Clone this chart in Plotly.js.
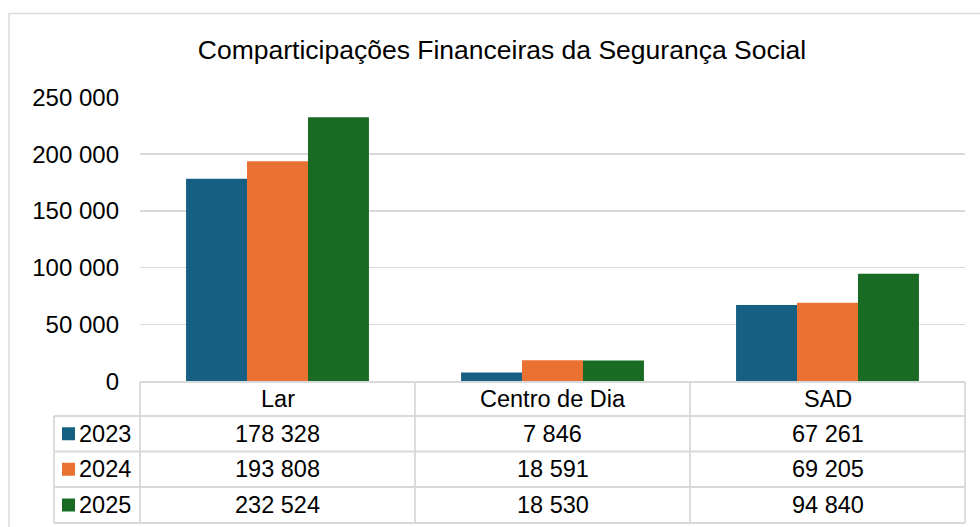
<!DOCTYPE html>
<html>
<head>
<meta charset="utf-8">
<script src="https://cdn.plot.ly/plotly-3.0.1.min.js"></script>
<style>html,body{margin:0;padding:0;background:#fff;}#chart{width:980px;height:527px;}</style>
</head>
<body>
<div id="chart"></div>
<script>
const categories = ['Lar', 'Centro de Dia', 'SAD'];
const years = ['2023', '2024', '2025'];
const values2023 = [178328, 7846, 67261];
const values2024 = [193808, 18591, 69205];
const values2025 = [232524, 18530, 94840];
const yTickValues = [0, 50000, 100000, 150000, 200000, 250000];
const yTickLabels = ['0', '50 000', '100 000', '150 000', '200 000', '250 000'];
const seriesColors = ['#156082', '#E97132', '#196B24'];
const seriesValues = [values2023, values2024, values2025];

const W = 980, H = 527;
const px = x => x / W;
const py = y => (H - y) / H;
const FONT = 'Liberation Sans, Arial, sans-serif';
const FS = 23.5;
const lineColor = '#D9D9D9';

function fmt(n) { return String(n).replace(/\B(?=(\d{3})+(?!\d))/g, ' '); }

const traces = years.map((yr, i) => ({
  type: 'bar', name: yr, x: categories, y: seriesValues[i],
  marker: { color: seriesColors[i], line: { width: 0 } },
  hoverinfo: 'skip'
}));

// table geometry (pixels)
const tblLeft = 54, plotLeft = 140, plotRight = 965;
const rowYs = [382, 416, 451.5, 487, 523];
const colXs = [415, 690];

const shapes = [];
// outer chart border
shapes.push({ type: 'rect', xref: 'paper', yref: 'paper', x0: px(9), x1: px(1000), y0: py(540), y1: py(13.5),
  line: { color: lineColor, width: 1.5 }, fillcolor: 'rgba(0,0,0,0)', layer: 'below' });
// horizontal table lines
shapes.push({ type: 'line', xref: 'paper', yref: 'paper', x0: px(plotLeft), x1: px(plotRight), y0: py(rowYs[0]), y1: py(rowYs[0]), line: { color: lineColor, width: 1.8 } });
for (let r = 1; r < rowYs.length; r++) {
  shapes.push({ type: 'line', xref: 'paper', yref: 'paper', x0: px(tblLeft), x1: px(plotRight), y0: py(rowYs[r]), y1: py(rowYs[r]), line: { color: lineColor, width: 1.8 } });
}
// vertical lines
shapes.push({ type: 'line', xref: 'paper', yref: 'paper', x0: px(tblLeft), x1: px(tblLeft), y0: py(rowYs[1]), y1: py(rowYs[4]), line: { color: lineColor, width: 1.8 } });
[plotLeft, ...colXs, plotRight].forEach(x => {
  shapes.push({ type: 'line', xref: 'paper', yref: 'paper', x0: px(x), x1: px(x), y0: py(rowYs[0]), y1: py(rowYs[4]), line: { color: lineColor, width: 1.8 } });
});

const annotations = [];
// header categories
categories.forEach(c => {
  annotations.push({ xref: 'x', yref: 'paper', x: c, y: py((rowYs[0] + rowYs[1]) / 2), text: c, showarrow: false,
    xanchor: 'center', yanchor: 'middle', font: { family: FONT, size: FS, color: '#000' } });
});
years.forEach((yr, i) => {
  const yc = (rowYs[i + 1] + rowYs[i + 2]) / 2;
  // legend key
  shapes.push({ type: 'rect', xref: 'paper', yref: 'paper', x0: px(62), x1: px(75), y0: py(yc + 6.5), y1: py(yc - 6.5),
    fillcolor: seriesColors[i], line: { width: 0 } });
  annotations.push({ xref: 'paper', yref: 'paper', x: px(77), y: py(yc), text: yr, showarrow: false,
    xanchor: 'left', yanchor: 'middle', font: { family: FONT, size: FS, color: '#000' } });
  categories.forEach((c, j) => {
    annotations.push({ xref: 'x', yref: 'paper', x: c, y: py(yc), text: fmt(seriesValues[i][j]), showarrow: false,
      xanchor: 'center', yanchor: 'middle', font: { family: FONT, size: FS, color: '#000' } });
  });
});

const layout = {
  width: W, height: H,
  margin: { l: 0, r: 0, t: 0, b: 0 },
  paper_bgcolor: '#fff', plot_bgcolor: '#fff',
  showlegend: false,
  barmode: 'group', bargap: 0.335, bargroupgap: 0,
  title: { text: 'Comparticipações Financeiras da Segurança Social', xref: 'paper', x: px(502), xanchor: 'center',
    y: py(50), yanchor: 'middle', font: { family: FONT, size: 26.5, color: '#000' } },
  xaxis: { domain: [px(plotLeft), px(plotRight)], showticklabels: false, showgrid: false, zeroline: false,
    showline: false, ticks: '', fixedrange: true },
  yaxis: { domain: [py(381.5), py(97.3)], range: [0, 250000], tickvals: yTickValues, ticktext: yTickLabels,
    showgrid: true, gridcolor: lineColor, gridwidth: 1.3, zeroline: false, showline: false, ticks: '',
    ticklabelstandoff: 20, tickfont: { family: FONT, size: 24, color: '#000' }, fixedrange: true },
  shapes: shapes,
  annotations: annotations
};

Plotly.newPlot('chart', traces, layout, { displayModeBar: false, staticPlot: true });
</script>
</body>
</html>
